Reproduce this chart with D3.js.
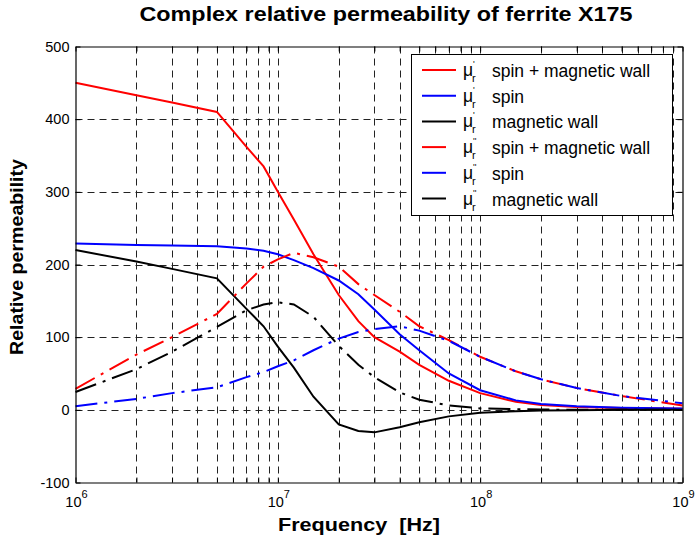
<!DOCTYPE html>
<html>
<head>
<meta charset="utf-8">
<script src="https://cdn.jsdelivr.net/npm/d3@7"></script>
<style>
  body { margin: 0; background: #fff; }
  svg { display: block; font-family: "Liberation Sans", Arial, sans-serif; }
</style>
</head>
<body>
<div id="chart"></div>
<script>
// frequency points (Hz) and the six permeability curves
const freq = [1e6, 2e6, 3e6, 5e6, 7e6, 8.5e6, 1e7, 1.2e7, 1.5e7, 2e7, 2.5e7, 3e7, 4e7, 5e7, 7e7, 1e8, 1.5e8, 2e8, 3e8, 5e8, 1e9];

const reSpinWall = [450, 433, 423, 410, 362, 335, 300, 262, 214, 158, 122, 100, 80, 62, 40, 23, 11, 6.5, 4, 2.5, 1.5];
const reSpin     = [229, 227, 226, 225, 222, 219, 214, 206, 195, 178, 159, 138, 104, 82, 50, 27, 13, 8, 5, 3, 2];
const reWall     = [220, 204, 194, 181, 139, 115, 87, 58, 18, -20, -29, -31, -24, -17, -9, -4, -2, -1, -0.5, 0, 0];
const imSpinWall = [29, 76, 100, 132, 174, 197, 207, 216, 210, 197, 173, 158, 135, 115, 96, 73, 53, 42, 30, 19, 6];
const imSpin     = [5, 15, 23, 31, 45, 52, 60, 68, 82, 98, 107, 111, 115, 109, 95, 73, 53, 42, 30, 19, 9];
const imWall     = [24.5, 56, 80, 114, 137, 145, 148, 145, 128, 88, 62, 45, 24, 14, 6, 2, 1, 0.5, 0, 0, 0];

const seriesNames = ["spin + magnetic wall", "spin", "magnetic wall", "spin + magnetic wall", "spin", "magnetic wall"];
const yTicks = [-100, 0, 100, 200, 300, 400, 500];
const xMajor = [1e6, 1e7, 1e8, 1e9];

const series = [
  { values: reSpinWall, color: "#ff0000", dash: null, prime: "'" },
  { values: reSpin,     color: "#0000ff", dash: null, prime: "'" },
  { values: reWall,     color: "#000000", dash: null, prime: "'" },
  { values: imSpinWall, color: "#ff0000", dash: "22,7,3,7", prime: "''" },
  { values: imSpin,     color: "#0000ff", dash: "22,7,3,7", prime: "''" },
  { values: imWall,     color: "#000000", dash: "22,7,3,7", prime: "''" }
];

const W = 698, H = 541;
const m = { left: 75.5, right: 682.5, top: 46.5, bottom: 482.5 };

const x = d3.scaleLog().domain([1e6, 1e9]).range([m.left, m.right]);
const y = d3.scaleLinear().domain([-100, 500]).range([m.bottom, m.top]);

const svg = d3.select("#chart").append("svg")
  .attr("width", W).attr("height", H);

// grid: every log tick and every 100 on y, dashed
const xGrid = x.ticks().filter(t => t > 1e6 && t < 1e9);
const grid = svg.append("g")
  .attr("stroke", "#222").attr("stroke-width", 1).attr("stroke-dasharray", "7,5");
grid.selectAll("line.v").data(xGrid).join("line")
  .attr("class", "v")
  .attr("x1", d => Math.round(x(d)) + 0.5).attr("x2", d => Math.round(x(d)) + 0.5)
  .attr("y1", m.top).attr("y2", m.bottom);
grid.selectAll("line.h").data(yTicks.filter(t => t > -100 && t < 500)).join("line")
  .attr("class", "h")
  .attr("x1", m.left).attr("x2", m.right)
  .attr("y1", d => Math.round(y(d)) + 0.5).attr("y2", d => Math.round(y(d)) + 0.5);

// curves
const line = d3.line()
  .x((d, i) => x(freq[i]))
  .y(d => y(d));

svg.append("g").attr("fill", "none")
  .selectAll("path")
  .data(series)
  .join("path")
  .attr("stroke", d => d.color)
  .attr("stroke-width", 2)
  .attr("stroke-dasharray", d => d.dash)
  .attr("d", d => line(d.values));

// box with inward ticks on all four sides
const fmtNone = () => "";
svg.append("g").attr("transform", `translate(0,${m.bottom})`)
  .call(d3.axisBottom(x).tickSize(-5).tickFormat(fmtNone).tickSizeOuter(0));
svg.append("g").attr("transform", `translate(0,${m.top})`)
  .call(d3.axisTop(x).tickSize(-5).tickFormat(fmtNone).tickSizeOuter(0));
svg.append("g").attr("transform", `translate(${m.left},0)`)
  .call(d3.axisLeft(y).tickValues(yTicks).tickSize(-5).tickFormat(fmtNone).tickSizeOuter(0));
svg.append("g").attr("transform", `translate(${m.right},0)`)
  .call(d3.axisRight(y).tickValues(yTicks).tickSize(-5).tickFormat(fmtNone).tickSizeOuter(0));
svg.selectAll(".domain").attr("stroke", "#000").attr("stroke-width", 1.2);
svg.selectAll(".tick line").attr("stroke", "#000");

// y tick labels
svg.append("g").selectAll("text").data(yTicks).join("text")
  .attr("x", m.left - 6).attr("y", d => y(d))
  .attr("dy", "0.35em")
  .attr("text-anchor", "end")
  .attr("font-size", 14.5)
  .text(d => d);

// x tick labels 10^n
const xl = svg.append("g").selectAll("text").data(xMajor).join("text")
  .attr("x", d => x(d) + 1).attr("y", m.bottom + 24)
  .attr("text-anchor", "middle")
  .attr("font-size", 14.5);
xl.append("tspan").text("10");
xl.append("tspan").attr("dy", -9).attr("font-size", 11).text(d => Math.round(Math.log10(d)));

// title and axis labels (stretched a little to the width of the original)
svg.append("text")
  .attr("x", 386).attr("y", 21)
  .attr("text-anchor", "middle")
  .attr("font-size", 20).attr("font-weight", "bold")
  .attr("textLength", 493).attr("lengthAdjust", "spacingAndGlyphs")
  .text("Complex relative permeability of ferrite X175");

svg.append("text")
  .attr("x", 359).attr("y", 531)
  .attr("text-anchor", "middle")
  .attr("font-size", 18).attr("font-weight", "bold")
  .attr("textLength", 162).attr("lengthAdjust", "spacingAndGlyphs")
  .attr("xml:space", "preserve")
  .text("Frequency  [Hz]");

svg.append("text")
  .attr("transform", "translate(23,257) rotate(-90)")
  .attr("text-anchor", "middle")
  .attr("font-size", 18).attr("font-weight", "bold")
  .attr("textLength", 196).attr("lengthAdjust", "spacingAndGlyphs")
  .text("Relative permeability");

// legend
const lg = svg.append("g");
lg.append("rect")
  .attr("x", 411.5).attr("y", 54.5).attr("width", 261).attr("height", 161)
  .attr("fill", "#fff").attr("stroke", "#000").attr("stroke-width", 1);

const row = lg.selectAll("g.row").data(series).join("g")
  .attr("class", "row")
  .attr("transform", (d, i) => `translate(0,${71 + i * 25.7})`);
row.append("line")
  .attr("x1", 422).attr("x2", d => d.dash ? 446 : 456)
  .attr("y1", -1).attr("y2", -1)
  .attr("stroke", d => d.color).attr("stroke-width", 2);
row.append("text").attr("font-size", 17.5)
  .attr("x", 463).attr("y", 5)
  .text("\u03bc");
row.append("text").attr("font-size", 9)
  .attr("x", 473).attr("y", -4)
  .text(d => d.prime);
row.append("text").attr("font-size", 11)
  .attr("x", 472).attr("y", 11)
  .text("r");
row.append("text").attr("font-size", 17.5)
  .attr("x", 492).attr("y", 6)
  .text((d, i) => seriesNames[i]);
</script>
</body>
</html>
